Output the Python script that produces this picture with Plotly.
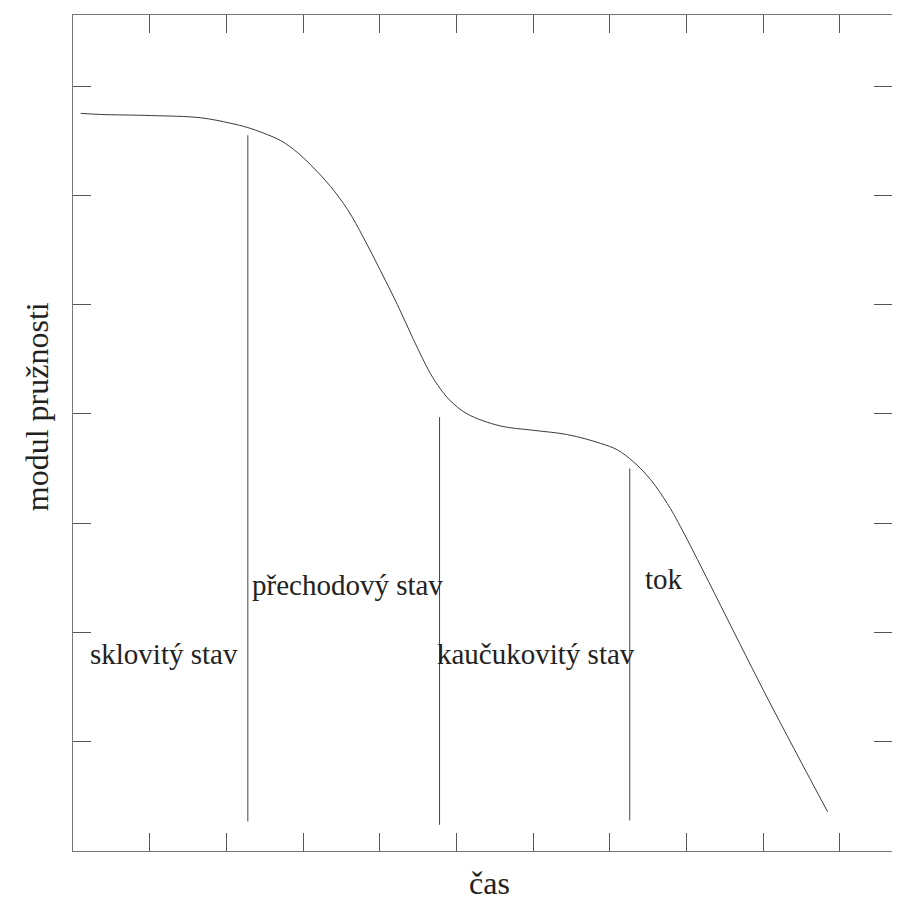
import plotly.graph_objects as go

# Modulus vs. time curve (data units: x = time, y = modulus)
curve_x = [0.10, 0.36, 1.01, 1.66, 2.05, 2.28, 2.48, 2.71, 2.93, 3.14, 3.36, 3.58,
           3.79, 4.01, 4.23, 4.44, 4.66, 4.79, 4.92, 5.14, 5.57, 6.00, 6.45, 6.88,
           7.10, 7.31, 7.53, 7.75, 7.92, 9.07, 9.84]
curve_y = [6.75, 6.74, 6.73, 6.71, 6.66, 6.62, 6.57, 6.50, 6.39, 6.25, 6.08, 5.87,
           5.61, 5.31, 5.00, 4.68, 4.37, 4.23, 4.12, 4.00, 3.89, 3.85, 3.81, 3.73,
           3.67, 3.56, 3.40, 3.18, 2.97, 1.38, 0.36]

# Region dividers
divider_x = [2.28, 4.78, 7.26]
divider_top = [6.55, 3.97, 3.50]
divider_bottom = [0.27, 0.24, 0.28]

# Region labels
label_text = ["sklovitý stav", "přechodový stav", "kaučukovitý stav", "tok"]
label_x = [0.20, 2.31, 4.72, 7.43]
label_y = [1.80, 2.43, 1.80, 2.49]

x_title = "čas"
y_title = "modul pružnosti"

x_range = [0, 10.68]
y_range = [0, 7.65]

FONT = "Liberation Serif, Times New Roman, serif"

fig = go.Figure()
fig.add_trace(go.Scatter(x=curve_x, y=curve_y, mode="lines",
                         line=dict(color="#3a3a3a", width=1, shape="spline", smoothing=1.0),
                         hoverinfo="skip", showlegend=False))
for dx, top, bot in zip(divider_x, divider_top, divider_bottom):
    fig.add_trace(go.Scatter(x=[dx, dx], y=[bot, top], mode="lines",
                             line=dict(color="#444444", width=1),
                             hoverinfo="skip", showlegend=False, yaxis="y2"))

for t, lx, ly in zip(label_text, label_x, label_y):
    fig.add_annotation(x=lx, y=ly, text=t, showarrow=False, xanchor="left",
                       yanchor="middle", font=dict(family=FONT, size=29, color="#222222"))

fig.add_annotation(xref="paper", yref="paper", x=0.508, y=-0.038, text=x_title,
                   showarrow=False, xanchor="center", yanchor="middle",
                   font=dict(family=FONT, size=32, color="#222222"))
fig.add_annotation(xref="paper", yref="paper", x=-0.044, y=0.532, text=y_title,
                   showarrow=False, textangle=-90, xanchor="center", yanchor="middle",
                   font=dict(family=FONT, size=32, color="#222222"))

axis_common = dict(showgrid=False, zeroline=False, showticklabels=False,
                   ticks="inside", ticklen=18, tickcolor="#555555", tickwidth=1)

# page body keeps an 8px margin, so the figure is sized to fill the 900x909 window
fig.update_layout(
    width=884, height=893,
    margin=dict(l=65, r=0, t=7, b=50),
    plot_bgcolor="white", paper_bgcolor="white",
    xaxis=dict(range=x_range, tick0=0, dtick=1, showline=True, linecolor="#777777",
               linewidth=1, mirror="ticks", **axis_common),
    yaxis=dict(range=y_range, tick0=0, dtick=1, showline=True, linecolor="#777777",
               linewidth=1, mirror=False, **axis_common),
    yaxis2=dict(range=y_range, tick0=0, dtick=1, overlaying="y", side="right",
                showline=False, **axis_common),
)

fig.write_html("out.html")
